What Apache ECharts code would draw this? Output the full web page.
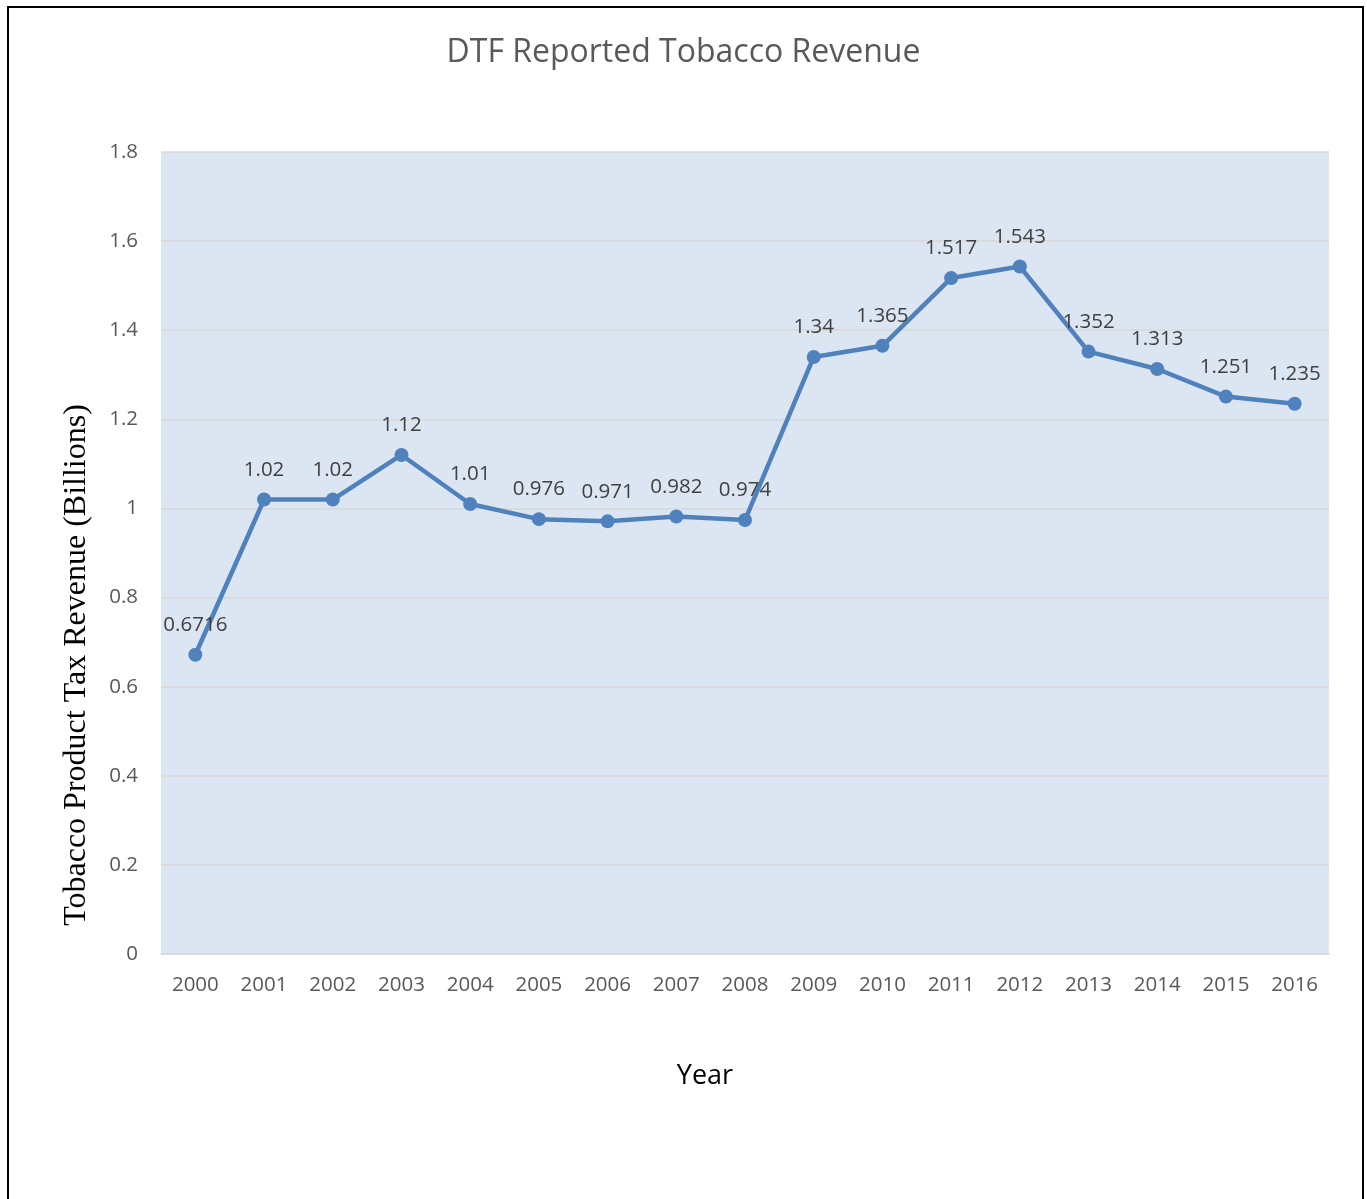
<!DOCTYPE html>
<html>
<head>
<meta charset="utf-8">
<script src="https://cdn.jsdelivr.net/npm/echarts@6/dist/echarts.min.js"></script>
<style>
  html, body { margin: 0; padding: 0; background: #ffffff; }
  #frame { position: absolute; left: 7px; top: 6px; width: 1353px; height: 1300px;
           border-left: 2px solid #000; border-top: 2px solid #000; border-right: 2px solid #000; }
  #chart { position: absolute; left: 0; top: 0; width: 1367px; height: 1199px; }
</style>
</head>
<body>
<div id="frame"></div>
<div id="chart"></div>
<script>
const years = ['2000','2001','2002','2003','2004','2005','2006','2007','2008','2009','2010','2011','2012','2013','2014','2015','2016'];
const revenue = [0.6716, 1.02, 1.02, 1.12, 1.01, 0.976, 0.971, 0.982, 0.974, 1.34, 1.365, 1.517, 1.543, 1.352, 1.313, 1.251, 1.235];
const yTicks = [0, 0.2, 0.4, 0.6, 0.8, 1, 1.2, 1.4, 1.6, 1.8];

const chart = echarts.init(document.getElementById('chart'));
const sans = 'Open Sans';
chart.setOption({
  animation: false,
  title: {
    text: 'DTF Reported Tobacco Revenue',
    left: 'center', top: 32,
    textStyle: { fontFamily: sans, fontSize: 32, fontWeight: 'normal', color: '#595959' }
  },
  grid: {
    left: 161, right: 38, top: 152, bottom: 245,
    show: true, backgroundColor: '#dce6f2', borderWidth: 0
  },
  xAxis: {
    type: 'category', data: years, boundaryGap: true,
    axisLine: { show: true, lineStyle: { color: '#d9d9d9', width: 1.5 } },
    axisTick: { show: false },
    axisLabel: { fontFamily: sans, fontSize: 20.5, color: '#595959', margin: 21 }
  },
  yAxis: {
    type: 'value', min: 0, max: 1.8, interval: 0.2,
    axisLine: { show: false }, axisTick: { show: false },
    splitLine: { lineStyle: { color: '#d9d9d9', width: 1.5 } },
    axisLabel: {
      fontFamily: sans, fontSize: 20.5, color: '#595959', margin: 23,
      formatter: v => { const t = yTicks.find(x => Math.abs(x - v) < 1e-9); return String(t !== undefined ? t : v); }
    }
  },
  graphic: [
    { type: 'text', x: 705, y: 1076,
      style: { text: 'Year', fontFamily: sans, fontSize: 27, fill: '#000000', align: 'center', verticalAlign: 'middle' } },
    { type: 'text', x: 77, y: 665, rotation: Math.PI / 2,
      style: { text: 'Tobacco Product Tax Revenue (Billions)', fontFamily: 'Liberation Serif', fontSize: 32,
               fill: '#000000', align: 'center', verticalAlign: 'middle' } }
  ],
  series: [{
    type: 'line', data: revenue,
    symbol: 'circle', symbolSize: 14,
    lineStyle: { color: '#4f81bd', width: 4.5 },
    itemStyle: { color: '#4f81bd' },
    label: { show: true, position: 'top', distance: 12, fontFamily: sans, fontSize: 20.5, color: '#404040',
             formatter: p => String(revenue[p.dataIndex]) }
  }]
});
</script>
</body>
</html>
